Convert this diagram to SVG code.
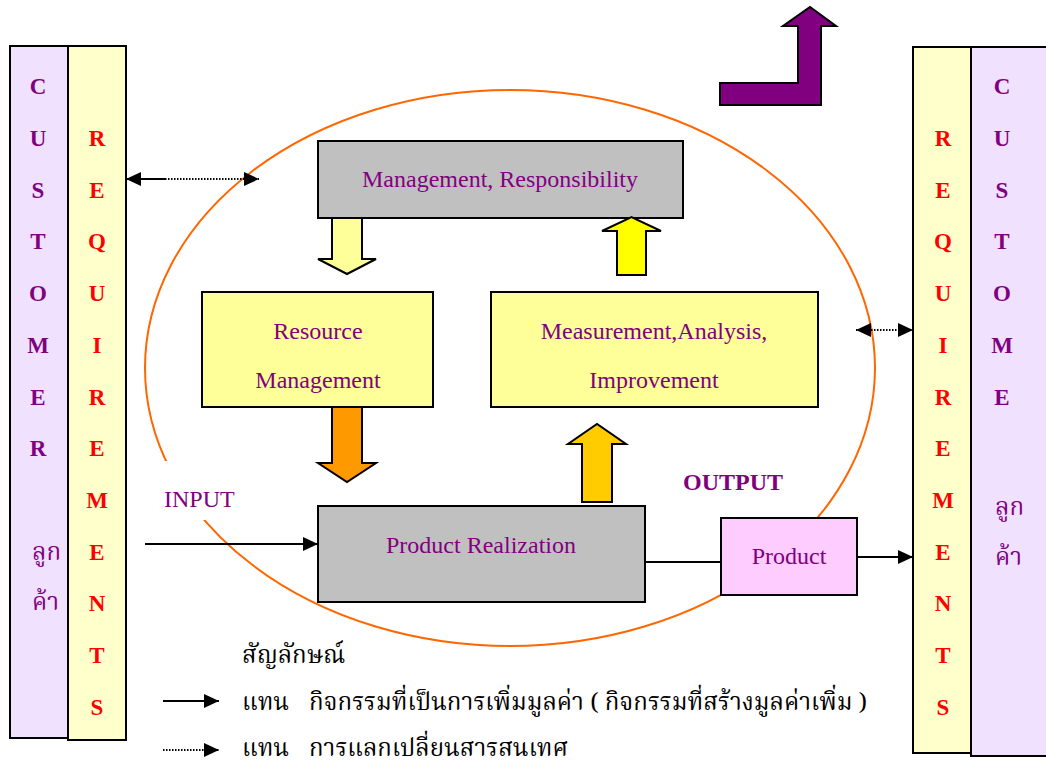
<svg xmlns="http://www.w3.org/2000/svg" width="1046" height="767" viewBox="0 0 1046 767">
<style>
.box{stroke:#000;stroke-width:2}
.en{font-family:"Liberation Serif","Times New Roman",serif;font-size:24px;fill:#800080}
.col{font-family:"Liberation Serif","Times New Roman",serif;font-size:23px;font-weight:bold;text-anchor:middle}
.cu{fill:#800080}
.rq{fill:#FF0000}
.th{font-family:"Noto Serif Thai","Noto Sans Thai","Tlwg Typo","Garuda","Loma","Norasi","Noto Sans",serif;}
.thc{font-size:24px;fill:#800080}
.leg{font-size:24px;fill:#000}
.conn{stroke:#000;stroke-width:2;fill:none}
.dot{stroke:#000;stroke-width:2;fill:none;stroke-dasharray:1.5 1.5}
.blk{stroke:#000;stroke-width:2;stroke-linejoin:miter}
</style>
<defs>
<marker id="ah" markerUnits="userSpaceOnUse" markerWidth="16" markerHeight="14" refX="15" refY="7" orient="auto-start-reverse">
<path d="M0,0 L15,7 L0,14 Z" fill="#000"/>
</marker>
</defs>
<rect width="1046" height="767" fill="#fff"/>

<ellipse id="cycle" cx="510" cy="368" rx="365" ry="278" fill="none" stroke="#FF6600" stroke-width="2"/>

<g id="left-customer">
<rect class="box" x="10" y="46" width="58" height="692" fill="#F0E1FF"/>
<text class="col cu" x="38" y="94">C</text>
<text class="col cu" x="38" y="146">U</text>
<text class="col cu" x="38" y="198">S</text>
<text class="col cu" x="38" y="249">T</text>
<text class="col cu" x="38" y="301">O</text>
<text class="col cu" x="38" y="353">M</text>
<text class="col cu" x="38" y="405">E</text>
<text class="col cu" x="38" y="456">R</text>
<text class="th thc" x="32" y="560">ลูก</text>
<text class="th thc" x="32" y="610">ค้า</text>
</g>
<g id="left-requirements">
<rect class="box" x="68" y="46" width="58" height="694" fill="#FFFFCC"/>
<text class="col rq" x="97" y="146">R</text>
<text class="col rq" x="97" y="198">E</text>
<text class="col rq" x="97" y="249">Q</text>
<text class="col rq" x="97" y="301">U</text>
<text class="col rq" x="97" y="353">I</text>
<text class="col rq" x="97" y="405">R</text>
<text class="col rq" x="97" y="456">E</text>
<text class="col rq" x="97" y="508">M</text>
<text class="col rq" x="97" y="560">E</text>
<text class="col rq" x="97" y="611">N</text>
<text class="col rq" x="97" y="663">T</text>
<text class="col rq" x="97" y="715">S</text>
</g>

<g id="right-customer">
<rect class="box" x="971" y="47" width="80" height="709" fill="#F0E1FF"/>
<text class="col cu" x="1002" y="94">C</text>
<text class="col cu" x="1002" y="146">U</text>
<text class="col cu" x="1002" y="198">S</text>
<text class="col cu" x="1002" y="249">T</text>
<text class="col cu" x="1002" y="301">O</text>
<text class="col cu" x="1002" y="353">M</text>
<text class="col cu" x="1002" y="405">E</text>
<text class="th thc" x="995" y="515">ลูก</text>
<text class="th thc" x="995" y="565">ค้า</text>
</g>
<g id="right-requirements">
<rect class="box" x="913" y="47" width="58" height="706" fill="#FFFFCC"/>
<text class="col rq" x="943" y="146">R</text>
<text class="col rq" x="943" y="198">E</text>
<text class="col rq" x="943" y="249">Q</text>
<text class="col rq" x="943" y="301">U</text>
<text class="col rq" x="943" y="353">I</text>
<text class="col rq" x="943" y="405">R</text>
<text class="col rq" x="943" y="456">E</text>
<text class="col rq" x="943" y="508">M</text>
<text class="col rq" x="943" y="560">E</text>
<text class="col rq" x="943" y="611">N</text>
<text class="col rq" x="943" y="663">T</text>
<text class="col rq" x="943" y="715">S</text>
</g>

<g id="top-arrow">
<path class="blk" d="M720,83 L798,83 L798,26 L783,26 L810,7 L836,26 L821,26 L821,105 L720,105 Z" fill="#800080"/>
</g>

<g id="management">
<rect class="box" x="318" y="141" width="365" height="77" fill="#C0C0C0"/>
<text class="en" x="500" y="187" text-anchor="middle">Management, Responsibility</text>
</g>
<g id="resource">
<rect class="box" x="202" y="292" width="231" height="115" fill="#FFFF99"/>
<text class="en" x="318" y="339" text-anchor="middle">Resource</text>
<text class="en" x="318" y="388" text-anchor="middle">Management</text>
</g>
<g id="measurement">
<rect class="box" x="491" y="292" width="327" height="115" fill="#FFFF99"/>
<text class="en" x="654" y="339" text-anchor="middle">Measurement,Analysis,</text>
<text class="en" x="654" y="388" text-anchor="middle">Improvement</text>
</g>
<g id="realization">
<rect class="box" x="318" y="506" width="327" height="96" fill="#C0C0C0"/>
<text class="en" x="481" y="553" text-anchor="middle">Product Realization</text>
</g>
<g id="product">
<rect class="box" x="721" y="518" width="136" height="77" fill="#FFCCFF"/>
<text class="en" x="789" y="564" text-anchor="middle">Product</text>
</g>
<g id="input-label">
<rect x="152" y="461" width="92" height="59" fill="#fff"/>
<text class="en" x="164" y="507">INPUT</text>
</g>
<g id="output-label">
<text class="en" x="683" y="490" font-weight="bold">OUTPUT</text>
</g>

<g id="connectors">
<path class="blk" d="M332,218 H362 V259 H376 L347,274 L318,259 H332 Z" fill="#FFFF99"/>
<path class="blk" d="M617,275 V231 H602 L631.5,217 L661,231 H646 V275 Z" fill="#FFFF00"/>
<path class="blk" d="M332,407 V463 H318 L347,482 L376,463 H362 V407 Z" fill="#FF9900"/>
<path class="blk" d="M582,502 V444 H568 L597,424 L626,444 H612 V502 Z" fill="#FFCC00"/>
<path class="conn" d="M145,544 H318" marker-end="url(#ah)"/>
<path class="conn" d="M645,562 H721"/>
<path class="conn" d="M857,557 H913" marker-end="url(#ah)"/>
<path class="conn" d="M126,179 H165" marker-start="url(#ah)"/>
<path class="dot" d="M165,179 H259" marker-end="url(#ah)"/>
<path class="dot" d="M856,330 H913" marker-start="url(#ah)" marker-end="url(#ah)"/>
</g>

<g id="legend">
<text class="th leg" x="242" y="663">สัญลักษณ์</text>
<path class="conn" d="M163,701 H219" marker-end="url(#ah)"/>
<text class="th leg" x="242" y="710">แทน</text>
<text class="th leg" x="309" y="710" textLength="558" lengthAdjust="spacingAndGlyphs">กิจกรรมที่เป็นการเพิ่มมูลค่า ( กิจกรรมที่สร้างมูลค่าเพิ่ม )</text>
<path class="dot" d="M163,750 H219" marker-end="url(#ah)"/>
<text class="th leg" x="242" y="756">แทน</text>
<text class="th leg" x="309" y="756" textLength="259" lengthAdjust="spacingAndGlyphs">การแลกเปลี่ยนสารสนเทศ</text>
</g>
</svg>
